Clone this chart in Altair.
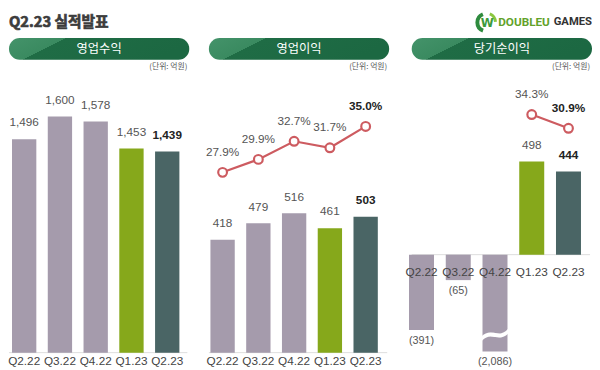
import altair as alt
import pandas as pd

# ---------------- data ----------------
quarters = ["Q2.22", "Q3.22", "Q4.22", "Q1.23", "Q2.23"]
revenue = [1496, 1600, 1578, 1453, 1439]
op_income = [418, 479, 516, 461, 503]
op_margin = [27.9, 29.9, 32.7, 31.7, 35.0]
net_income = [-391, -65, -2086, 498, 444]
# drawn bar length for net income (axis is broken / enlarged for the losses)
net_bar_drawn = [-403, -136, -518, 498, 444]
net_margin_q = ["Q1.23", "Q2.23"]
net_margin = [34.3, 30.9]
bar_colors = ["#a59bac", "#a59bac", "#a59bac", "#86a81b", "#4a6565"]

RED = "#cd5b60"
NUM_FONT = "Liberation Sans"
KR_FONT = "Noto Sans CJK KR"
W, H = 184, 354


def fmt(v):
    return f"({abs(v):,})" if v < 0 else f"{v:,}"


df_rev = pd.DataFrame({"q": quarters, "v": revenue, "lab": [fmt(v) for v in revenue]})
df_op = pd.DataFrame({"q": quarters, "v": op_income, "lab": [fmt(v) for v in op_income],
                      "m": op_margin, "mlab": [f"{m:.1f}%" for m in op_margin]})
df_net = pd.DataFrame({"q": quarters, "v": net_bar_drawn, "real": net_income,
                       "lab": [fmt(v) for v in net_income]})
df_nm = pd.DataFrame({"q": net_margin_q, "m": net_margin, "mlab": [f"{m:.1f}%" for m in net_margin]})
df_break = pd.DataFrame({"q": ["Q4.22"], "v": [-432]})
one = pd.DataFrame({"k": [0]})

color = alt.Color("q:N", scale=alt.Scale(domain=quarters, range=bar_colors), legend=None)


def xenc(rng):
    return alt.X("q:N", sort=quarters,
                 scale=alt.Scale(domain=quarters, range=rng, paddingInner=0.32, paddingOuter=0.16),
                 axis=None)


def yenc(field, dom):
    return alt.Y(f"{field}:Q", scale=alt.Scale(domain=dom, nice=False, zero=False), axis=None)


def deco_text(txt, x, y, **kw):
    return alt.Chart(one).mark_text(**kw).encode(x=alt.value(x), y=alt.value(y), text=alt.value(txt))


pill_grad = alt.LinearGradient(
    gradient="linear", x1=0, y1=0, x2=1, y2=0.24,
    stops=[alt.GradientStop(offset=0, color="#44936a"),
           alt.GradientStop(offset=0.3, color="#3a8a60"),
           alt.GradientStop(offset=0.3, color="#1f6c45"),
           alt.GradientStop(offset=1, color="#1c6842")])


def header(label):
    pill = alt.Chart(one).mark_rect(cornerRadius=11, fill=pill_grad).encode(
        x=alt.value(0), x2=alt.value(W), y=alt.value(24), y2=alt.value(46))
    txt = deco_text(label, W / 2, 35, font=KR_FONT, fontSize=12.5, color="white")
    unit = deco_text("(단위: 억원)", W - 2, 54, font=KR_FONT, fontSize=8, color="#555",
                     align="right")
    return [pill, txt, unit]


def value_labels(df, x, y, dy):
    normal = alt.Chart(df).transform_filter(alt.datum.q != "Q2.23").mark_text(
        dy=dy, font=NUM_FONT, fontSize=12, color="#555").encode(x=x, y=y, text="lab:N")
    bold = alt.Chart(df).transform_filter(alt.datum.q == "Q2.23").mark_text(
        dy=dy, font=NUM_FONT, fontSize=12, fontWeight="bold", color="#222").encode(x=x, y=y, text="lab:N")
    return [normal, bold]


def margin_layers(df, x, y):
    line = alt.Chart(df).mark_line(color=RED, strokeWidth=2.2).encode(x=x, y=y)
    pts = alt.Chart(df).mark_point(shape="circle", filled=True, fill="white", stroke=RED,
                                   strokeWidth=2.2, size=80, opacity=1).encode(x=x, y=y)
    lab_n = alt.Chart(df).transform_filter(alt.datum.q != "Q2.23").mark_text(
        dy=-21, font=NUM_FONT, fontSize=12, color="#555").encode(x=x, y=y, text="mlab:N")
    lab_b = alt.Chart(df).transform_filter(alt.datum.q == "Q2.23").mark_text(
        dy=-21, font=NUM_FONT, fontSize=12, fontWeight="bold", color="#222").encode(x=x, y=y, text="mlab:N")
    return [line, pts, lab_n, lab_b]


def cat_labels(df, x, ypix):
    return alt.Chart(df).mark_text(font=NUM_FONT, fontSize=12, color="#444").encode(
        x=x, y=alt.value(ypix), text="q:N")


def base_rule(ypix):
    return alt.Chart(one).mark_rule(color="#dcdcdc", strokeWidth=1).encode(
        x=alt.value(0), x2=alt.value(W - 2), y=alt.value(ypix))


# ---------------- panel 1: revenue ----------------
x1 = xenc([-2.75, 179.75])
y1 = yenc("v", [469.3, 2071.1])
title = deco_text("Q2.23 실적발표", 0, 8, font=KR_FONT, fontSize=15, fontWeight="bold",
                  color="#3c3c3c", stroke="#3c3c3c", strokeWidth=0.7, align="left")
bars1 = alt.Chart(df_rev).mark_bar().encode(x=x1, y=y1, y2=alt.datum(510), color=color)
p1 = alt.layer(title, *header("영업수익"), base_rule(345), bars1,
               *value_labels(df_rev, x1, y1, -17), cat_labels(df_rev, x1, 354)
               ).properties(width=W, height=H)

# ---------------- panel 2: operating income ----------------
x2 = xenc([-4.25, 178.25])
y2 = yenc("v", [-32.7, 1252.3])
m2 = yenc("m", [-1.34, 52.29])
bars2 = alt.Chart(df_op).mark_bar().encode(x=x2, y=y2, color=color)
p2 = alt.layer(*header("영업이익"), base_rule(345), bars2,
               *value_labels(df_op, x2, y2, -17), cat_labels(df_op, x2, 354),
               *margin_layers(df_op, x2, m2)
               ).resolve_scale(y="independent").properties(width=W, height=H)

# ---------------- panel 3: net income ----------------
x3 = xenc([-8.75, 178.75])
y3 = yenc("v", [-570.7, 1282.7])
m3 = yenc("m", [-26.87, 59.06])
bars3 = alt.Chart(df_net).mark_bar().encode(x=x3, y=y3, color=color)
brk = alt.Chart(df_break).mark_text(text="~", font="DejaVu Sans", fontSize=50, fontWeight="normal",
                                    color="white", angle=348).encode(x=x3, y=y3)
neg_labels = alt.Chart(df_net).transform_filter(alt.datum.real < 0).mark_text(
    dy=11, font=NUM_FONT, fontSize=11, color="#555").encode(x=x3, y=y3, text="lab:N")
pos_labels = value_labels(df_net[df_net["real"] > 0], x3, y3, -17)

logo_ring = alt.Chart(one).mark_arc(radius=11, radius2=7, theta=3.5, theta2=5.9,
                                    color="#2e8b3e").encode(x=alt.value(76), y=alt.value(8))
logo_ring2 = alt.Chart(one).mark_arc(radius=11, radius2=8, theta=0.4, theta2=1.5,
                                     color="#8cc63f").encode(x=alt.value(76), y=alt.value(8))
logo_w = deco_text("W", 77, 9, font="DejaVu Sans", fontSize=12, fontWeight="bold",
                   color="#3c9a3c")
logo_a = deco_text("DOUBLEU", 141, 8, font="Roboto", fontSize=12, fontWeight="bold",
                   color="#62a22a", align="right")
logo_b = deco_text("GAMES", W, 8, font="Roboto", fontSize=11.5, fontWeight="bold",
                   color="#333", align="right")

p3 = alt.layer(logo_ring, logo_ring2, logo_w, logo_a, logo_b,
               *header("당기순이익"), base_rule(245), bars3, brk,
               cat_labels(df_net, x3, 263), neg_labels, *pos_labels,
               *margin_layers(df_nm, x3, m3)
               ).resolve_scale(y="independent").properties(width=W, height=H)

chart = alt.hconcat(p1, p2, p3, spacing=16).properties(padding=0).configure_view(stroke=None)

chart.save("out.html", embed_options={"renderer": "svg", "actions": False})
